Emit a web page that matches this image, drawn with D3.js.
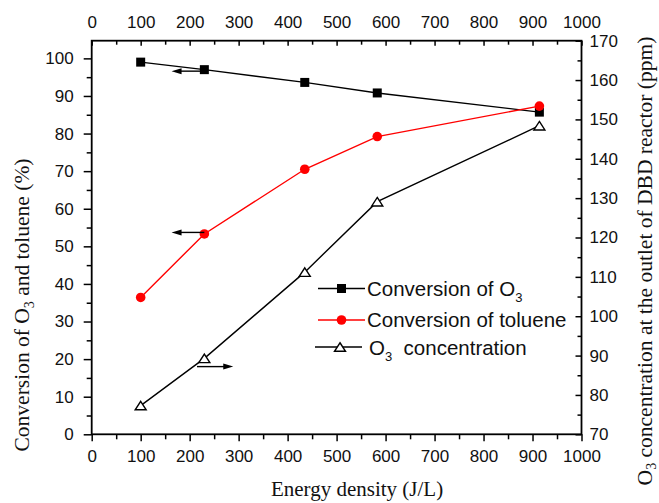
<!DOCTYPE html>
<html>
<head>
<meta charset="utf-8">
<script src="https://cdn.jsdelivr.net/npm/d3@7"></script>
<style>
  body { margin: 0; background: #fff; }
  svg { display: block; }
</style>
</head>
<body>
<svg id="chart" width="659" height="503"></svg>
<script>
// Energy density (J/L) of each measurement
const energy = [100, 230, 435, 583, 914];
// Conversion of O3 (%), left axis
const convO3 = [99.0, 97.0, 93.6, 90.8, 85.7];
// Conversion of toluene (%), left axis
const convToluene = [36.4, 53.3, 70.5, 79.2, 87.3];
// O3 concentration at the reactor outlet (ppm), right axis
const o3Conc = [77.3, 89.3, 111.2, 129.1, 148.4];

const xTicks = d3.range(0, 1001, 100);
const xMinor = d3.range(50, 1000, 100);
const leftTicks = d3.range(0, 101, 10);
const leftMinor = d3.range(5, 105, 10);
const rightTicks = d3.range(70, 171, 10);
const rightMinor = d3.range(75, 170, 10);

const legendLabels = ["Conversion of O_3", "Conversion of toluene", "O_3  concentration"];
const xTitle = "Energy density (J/L)";
const leftTitle = "Conversion of O_3 and toluene (%)";
const rightTitle = "O_3 concentration at the outlet of DBD reactor (ppm)";

// Arrows pointing each curve to its axis, in data units
const arrows = [
  { axis: "left", x0: 230, x1: 163, y: 96.6 },
  { axis: "left", x0: 230, x1: 163, y: 53.7 },
  { axis: "right", x0: 215, x1: 289, y: 87.2 }
];

const svg = d3.select("#chart");
const plot = { left: 91.7, right: 581.5, top: 40.7, bottom: 434.3 };
const sans = "'Liberation Sans', Arial, sans-serif";
const serif = "'Liberation Serif', 'Times New Roman', serif";

const x = d3.scaleLinear().domain([0, 1000]).range([plot.left, plot.right]);
const yL = d3.scaleLinear().domain([0, 104.7]).range([plot.bottom, plot.top]);
const yR = d3.scaleLinear().domain([70, 170]).range([plot.bottom, plot.top]);

// Writes a string into a text element, turning "_n" into a subscript
function richText(sel, str, size, subSize, shift) {
  sel.attr("font-size", size).attr("xml:space", "preserve").style("white-space", "pre");
  const parts = str.split(/_(\d)/);
  let pendingDy = 0;
  parts.forEach((p, i) => {
    if (p === "") return;
    const t = sel.append("tspan").text(p);
    if (i % 2 === 1) {
      t.attr("font-size", subSize).attr("dy", shift);
      pendingDy = -shift;
    } else {
      t.attr("font-size", size);
      if (pendingDy) t.attr("dy", pendingDy);
      pendingDy = 0;
    }
  });
}

function styleAxis(g) {
  g.select(".domain").remove();
  g.selectAll(".tick line").attr("stroke", "#000").attr("stroke-width", 1.5);
  g.selectAll(".tick text").attr("font-family", sans).attr("font-size", 17).attr("fill", "#111");
  g.attr("font-family", null).attr("font-size", null);
}
function styleMinor(g) {
  styleAxis(g);
  g.selectAll(".tick text").remove();
}

// Bottom axis: outward ticks
svg.append("g").attr("transform", `translate(0,${plot.bottom})`)
  .call(d3.axisBottom(x).tickValues(xTicks).tickSize(7).tickPadding(9).tickFormat(d3.format("d")))
  .call(styleAxis);
svg.append("g").attr("transform", `translate(0,${plot.bottom})`)
  .call(d3.axisBottom(x).tickValues(xMinor).tickSize(5))
  .call(styleMinor);

// Top axis: inward ticks
svg.append("g").attr("transform", `translate(0,${plot.top})`)
  .call(d3.axisTop(x).tickValues(xTicks).tickSizeInner(-5).tickSizeOuter(0).tickPadding(13).tickFormat(d3.format("d")))
  .call(styleAxis);
svg.append("g").attr("transform", `translate(0,${plot.top})`)
  .call(d3.axisTop(x).tickValues(xMinor).tickSizeInner(-4).tickSizeOuter(0))
  .call(styleMinor);

// Left axis: outward ticks
svg.append("g").attr("transform", `translate(${plot.left},0)`)
  .call(d3.axisLeft(yL).tickValues(leftTicks).tickSize(8).tickPadding(10).tickFormat(d3.format("d")))
  .call(styleAxis);
svg.append("g").attr("transform", `translate(${plot.left},0)`)
  .call(d3.axisLeft(yL).tickValues(leftMinor).tickSize(5))
  .call(styleMinor);

// Right axis: inward ticks
svg.append("g").attr("transform", `translate(${plot.right},0)`)
  .call(d3.axisRight(yR).tickValues(rightTicks).tickSizeInner(-6).tickSizeOuter(0).tickPadding(8).tickFormat(d3.format("d")))
  .call(styleAxis);
svg.append("g").attr("transform", `translate(${plot.right},0)`)
  .call(d3.axisRight(yR).tickValues(rightMinor).tickSizeInner(-4).tickSizeOuter(0))
  .call(styleMinor);

// Frame
svg.append("rect")
  .attr("x", plot.left).attr("y", plot.top)
  .attr("width", plot.right - plot.left).attr("height", plot.bottom - plot.top)
  .attr("fill", "none").attr("stroke", "#000").attr("stroke-width", 1.8);

// Axis titles
svg.append("text")
  .attr("x", 357).attr("y", 496).attr("text-anchor", "middle")
  .attr("font-family", serif).attr("font-size", 21).attr("fill", "#111")
  .text(xTitle);

richText(svg.append("text")
  .attr("transform", "translate(29,305) rotate(-90)").attr("text-anchor", "middle")
  .attr("font-family", serif).attr("fill", "#111"), leftTitle, 21.5, 14, 5);

richText(svg.append("text")
  .attr("transform", "translate(652,261) rotate(-90)").attr("text-anchor", "middle")
  .attr("font-family", serif).attr("fill", "#111"), rightTitle, 21.5, 14, 4);

// Marker shapes
const squarePath = s => `M${-s / 2},${-s / 2}h${s}v${s}h${-s}Z`;
const trianglePath = (w, h) => `M0,${-h / 2}L${w / 2},${h / 2}L${-w / 2},${h / 2}Z`;

function drawSeries(values, yScale, color, marker) {
  const pts = energy.map((e, i) => [x(e), yScale(values[i])]);
  svg.append("path")
    .attr("d", d3.line()(pts))
    .attr("fill", "none").attr("stroke", color).attr("stroke-width", 1.4);
  const g = svg.append("g");
  pts.forEach(p => marker(g, p[0], p[1]));
}

const squareMarker = (g, cx, cy) => g.append("path")
  .attr("transform", `translate(${cx},${cy})`).attr("d", squarePath(9)).attr("fill", "#000");
const circleMarker = (g, cx, cy) => g.append("circle")
  .attr("cx", cx).attr("cy", cy).attr("r", 4.8).attr("fill", "#ff0000");
const triangleMarker = (g, cx, cy) => g.append("path")
  .attr("transform", `translate(${cx},${cy})`).attr("d", trianglePath(11, 8.5))
  .attr("fill", "#fff").attr("stroke", "#000").attr("stroke-width", 1.4);

drawSeries(convO3, yL, "#000", squareMarker);
drawSeries(convToluene, yL, "#ff0000", circleMarker);
drawSeries(o3Conc, yR, "#000", triangleMarker);

// Arrows
arrows.forEach(a => {
  const ys = a.axis === "left" ? yL : yR;
  const x0 = x(a.x0), x1 = x(a.x1), yy = ys(a.y);
  const dir = Math.sign(x1 - x0);
  svg.append("line")
    .attr("x1", x0).attr("y1", yy).attr("x2", x1 - dir * 6).attr("y2", yy)
    .attr("stroke", "#000").attr("stroke-width", 1.4);
  svg.append("path")
    .attr("d", `M${x1},${yy}L${x1 - dir * 10},${yy - 3}L${x1 - dir * 10},${yy + 3}Z`)
    .attr("fill", "#000");
});

// Legend
const legendRows = [
  { y: 288.5, base: 296, color: "#000", marker: squareMarker, lx0: 318, lx1: 365, mx: 341.5, tx: 367 },
  { y: 320, base: 327, color: "#ff0000", marker: circleMarker, lx0: 318, lx1: 365, mx: 341.5, tx: 367 },
  { y: 347, base: 355, color: "#000", marker: triangleMarker, lx0: 315, lx1: 362, mx: 340, tx: 369 }
];
legendRows.forEach((r, i) => {
  svg.append("line")
    .attr("x1", r.lx0).attr("x2", r.lx1).attr("y1", r.y).attr("y2", r.y)
    .attr("stroke", r.color).attr("stroke-width", 1.4);
  r.marker(svg.append("g"), r.mx, r.y);
  richText(svg.append("text")
    .attr("x", r.tx).attr("y", r.base)
    .attr("font-family", sans).attr("fill", "#111"), legendLabels[i], 20.5, 13, 6);
});
</script>
</body>
</html>
